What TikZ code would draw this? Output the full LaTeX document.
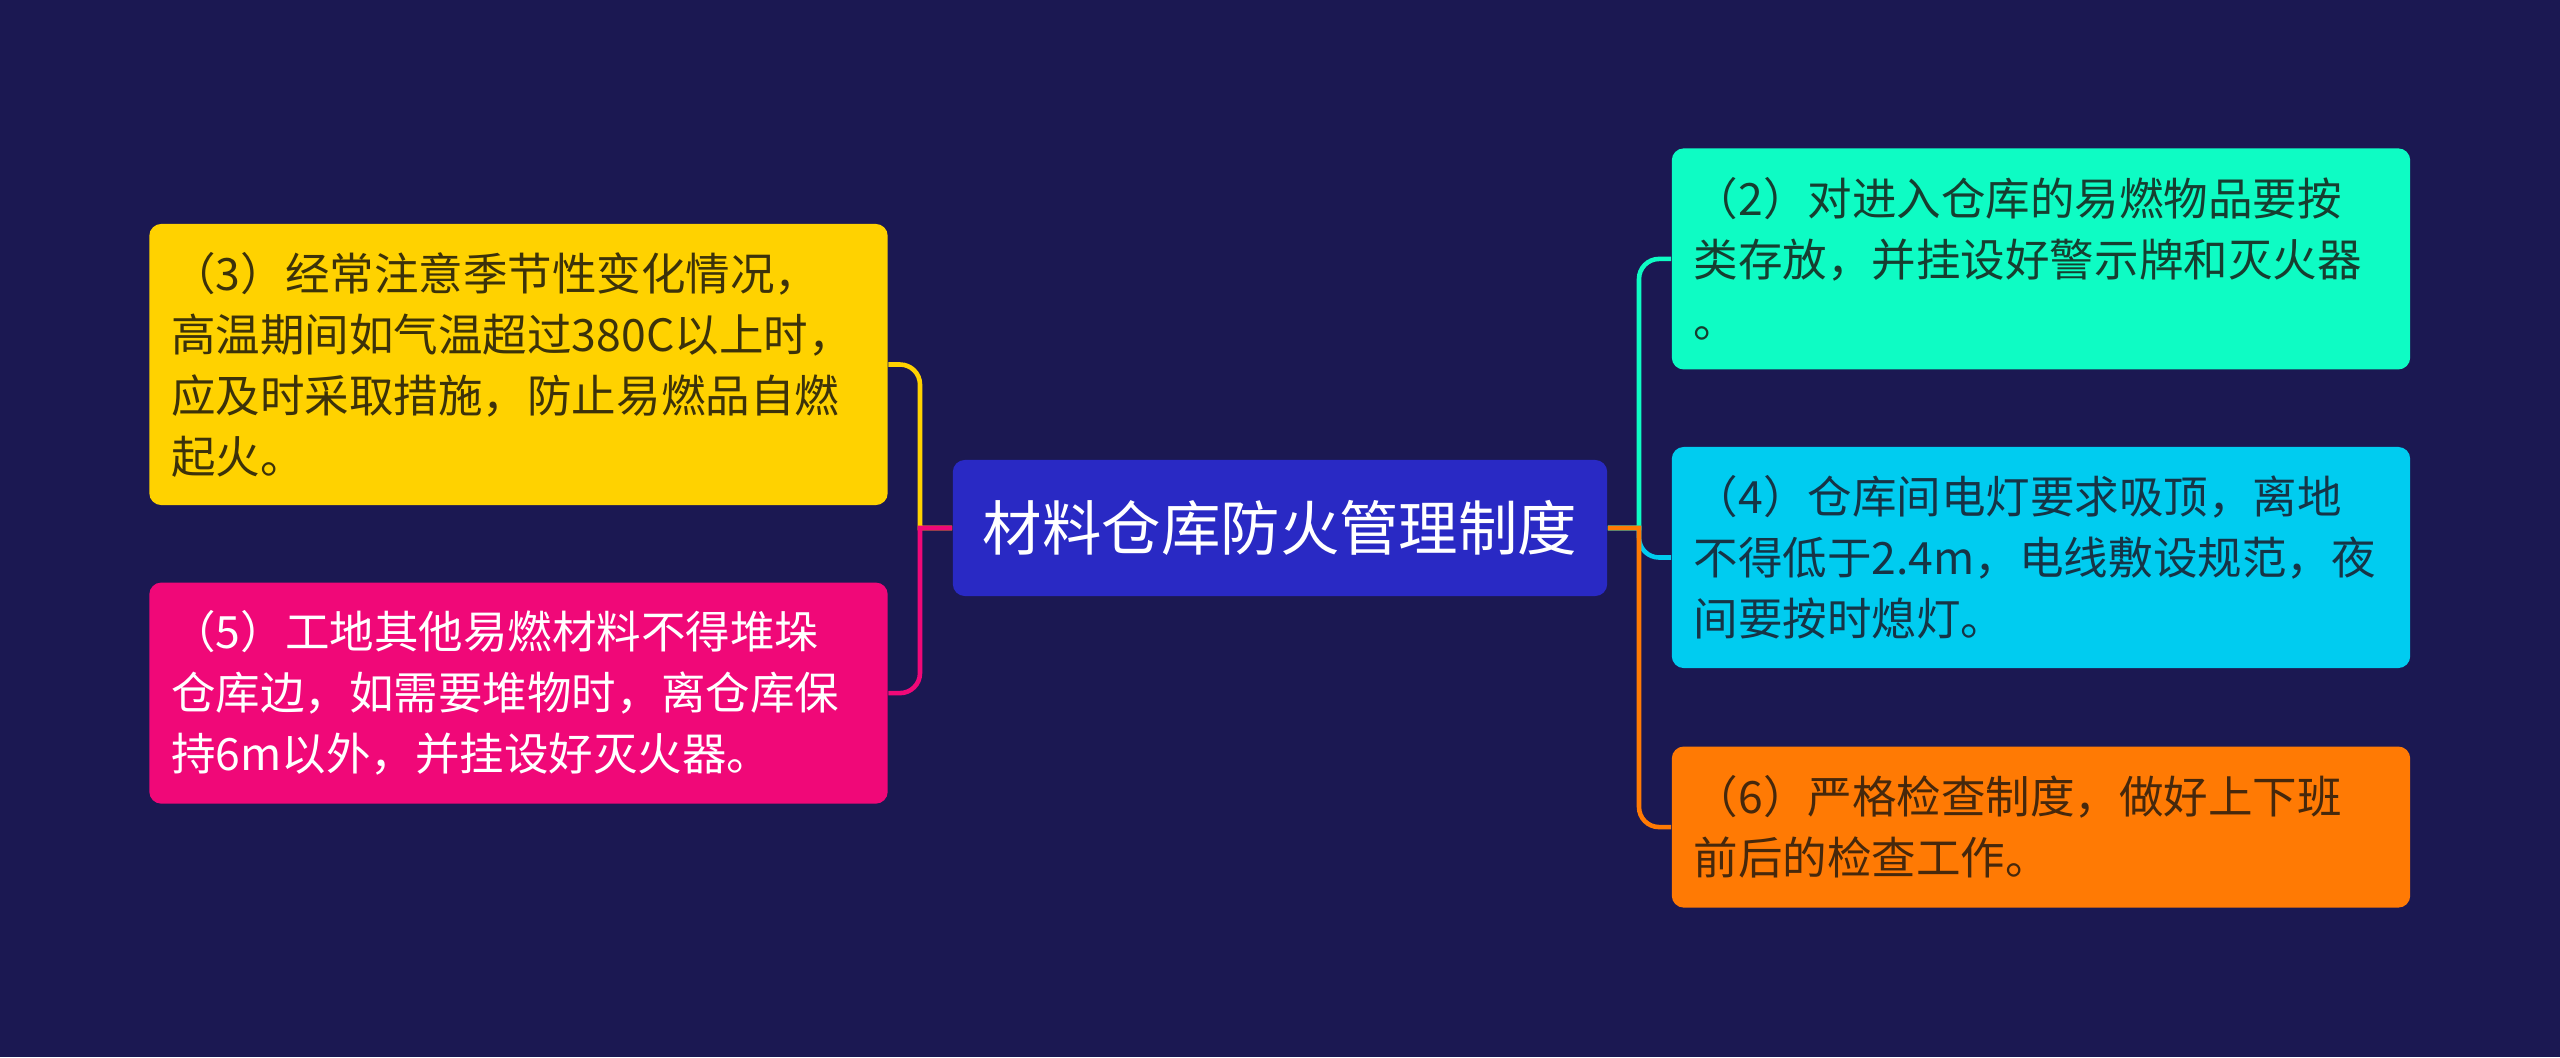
\documentclass[tikz,border=0pt]{standalone}
\usepackage{fontspec}
\newfontfamily\cjk{Noto Sans CJK SC}
\usepackage{xcolor}
\usepackage{tikz}
\usetikzlibrary{positioning}
\definecolor{bgnavy}{RGB}{27,24,82}
\definecolor{hubblue}{RGB}{41,41,196}
\definecolor{leafyellow}{RGB}{255,210,0}
\definecolor{leafpink}{RGB}{240,8,120}
\definecolor{leafmint}{RGB}{14,252,196}
\definecolor{leafcyan}{RGB}{0,204,240}
\definecolor{leaforange}{RGB}{255,122,4}
\definecolor{inkyellow}{RGB}{60,50,10}
\definecolor{inkmint}{RGB}{22,62,48}
\definecolor{inkcyan}{RGB}{22,52,70}
\definecolor{inkorange}{RGB}{70,40,12}
\tikzset{
  hub/.style={rounded corners=0.12cm, fill=hubblue, text=white, align=center, minimum width=6.54cm, minimum height=1.36cm, font=\cjk\fontsize{16.9pt}{20pt}\selectfont},
  leaf/.style={rounded corners=0.12cm, align=left, text width=6.94cm, inner xsep=0.22cm, inner ysep=0pt, font=\cjk\fontsize{12.66pt}{17.36pt}\selectfont},
  link/.style={line width=1.3pt}
}
\begin{document}
\begin{tikzpicture}[x=0.01cm, y=-0.01cm]
  \fill[bgnavy] (0,0) rectangle (2560,1057);
  \useasboundingbox (0,0) rectangle (2560,1057);

  \node[hub] (hub) at (1280,528) {材料仓库防火管理制度};

  % left side
  \node[leaf, fill=leafyellow, text=inkyellow, minimum height=2.81cm] (n3) at (518.5,364.5) {（3）经常注意季节性变化情况，\\高温期间如气温超过380C以上时，\\应及时采取措施，防止易燃品自燃\\起火。};
  \node[leaf, fill=leafpink, text=white, minimum height=2.21cm, below=0.76cm of n3] (n5) {（5）工地其他易燃材料不得堆垛\\仓库边，如需要堆物时，离仓库保\\持6m以外，并挂设好灭火器。};

  % right side
  \node[leaf, fill=leafcyan, text=inkcyan, minimum height=2.21cm] (n4) at (2041,557.5) {（4）仓库间电灯要求吸顶，离地\\不得低于2.4m，电线敷设规范，夜\\间要按时熄灯。};
  \node[leaf, fill=leafmint, text=inkmint, minimum height=2.21cm, above=0.76cm of n4] (n2) {（2）对进入仓库的易燃物品要按\\类存放，并挂设好警示牌和灭火器\\。};
  \node[leaf, fill=leaforange, text=inkorange, minimum height=1.61cm, below=0.77cm of n4] (n6) {（6）严格检查制度，做好上下班\\前后的检查工作。};

  \coordinate (jl) at (920,528);
  \coordinate (jr) at (1639,528);

  \draw[link, leafyellow] (hub.west) -- (jl) [rounded corners=0.2cm] -- (jl |- n3.east) -- (n3.east);
  \draw[link, leafpink] (hub.west) -- (jl) [rounded corners=0.2cm] -- (jl |- n5.east) -- (n5.east);
  \draw[link, leafmint] (hub.east) -- (jr) [rounded corners=0.2cm] -- (jr |- n2.west) -- (n2.west);
  \draw[link, leafcyan] (hub.east) -- (jr) [rounded corners=0.2cm] -- (jr |- n4.west) -- (n4.west);
  \draw[link, leaforange] (hub.east) -- (jr) [rounded corners=0.2cm] -- (jr |- n6.west) -- (n6.west);
\end{tikzpicture}
\end{document}
